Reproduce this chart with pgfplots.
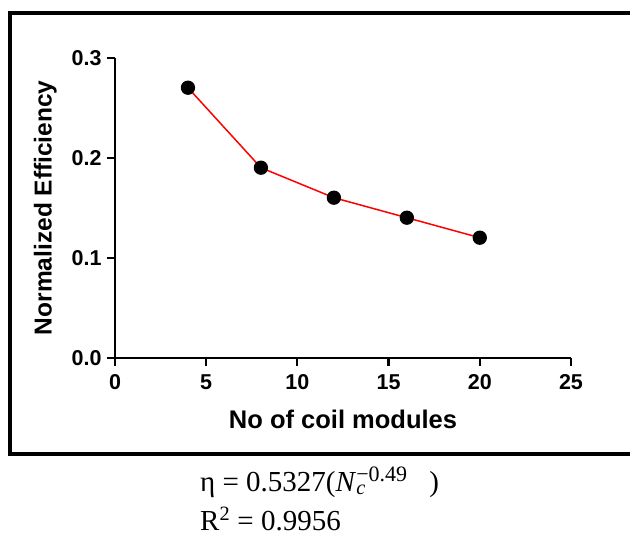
\documentclass[border=0pt]{standalone}
\usepackage{fontspec}
\setmainfont{Liberation Sans}
\newfontfamily\timesfont{Liberation Serif}
\usepackage{pgfplots}
\pgfplotsset{compat=1.18}
\begin{document}
\begin{tikzpicture}[x=1pt,y=1pt]
\path[use as bounding box] (0,0) rectangle (630,-535);
% outer frame (right side runs off the page)
\draw[line width=4pt] (640,-13) -- (10,-13) -- (10,-454) -- (640,-454);
\begin{axis}[
  at={(115pt,-357.7pt)}, anchor=south west,
  scale only axis, width=456pt, height=300pt,
  xmin=0, xmax=25, ymin=0, ymax=0.3,
  axis x line*=bottom, axis y line*=left,
  axis line style={-, line width=2.2pt},
  xtick={0,5,...,25}, ytick={0,0.1,0.2,0.3},
  tick align=outside, major tick length=8pt,
  tick style={line width=2.2pt, black},
  /pgf/number format/assume math mode=true,
  ticklabel style={font=\fontsize{21.5}{24}\selectfont\bfseries},
  xticklabel style={yshift=-5pt},
  yticklabel style={xshift=-2pt, /pgf/number format/.cd, fixed, fixed zerofill, precision=1},
  xlabel={No of coil modules}, ylabel={Normalized Efficiency},
  xlabel style={font=\fontsize{25.5}{28}\selectfont\bfseries, yshift=-14pt},
  ylabel style={font=\fontsize{24.5}{28}\selectfont\bfseries, yshift=8pt},
  clip=false,
]
\addplot[red, line width=1.5pt, mark=*, mark size=6.4pt,
  mark options={draw=black, fill=black}]
  coordinates {(4,0.27) (8,0.19) (12,0.16) (16,0.14) (20,0.12)};
\end{axis}
\node[font=\timesfont\fontsize{29}{32}\selectfont, anchor=base west, inner sep=0pt] at (200,-491)
  {η = 0.5327(\textit{N}\rlap{\textsubscript{\textit{c}}}\textsuperscript{\fontsize{22}{24}\selectfont −0.49}\ \ \ )};
\node[font=\timesfont\fontsize{29}{32}\selectfont, anchor=base west, inner sep=0pt] at (200,-530)
  {R\textsuperscript{2} = 0.9956};
\end{tikzpicture}
\end{document}
